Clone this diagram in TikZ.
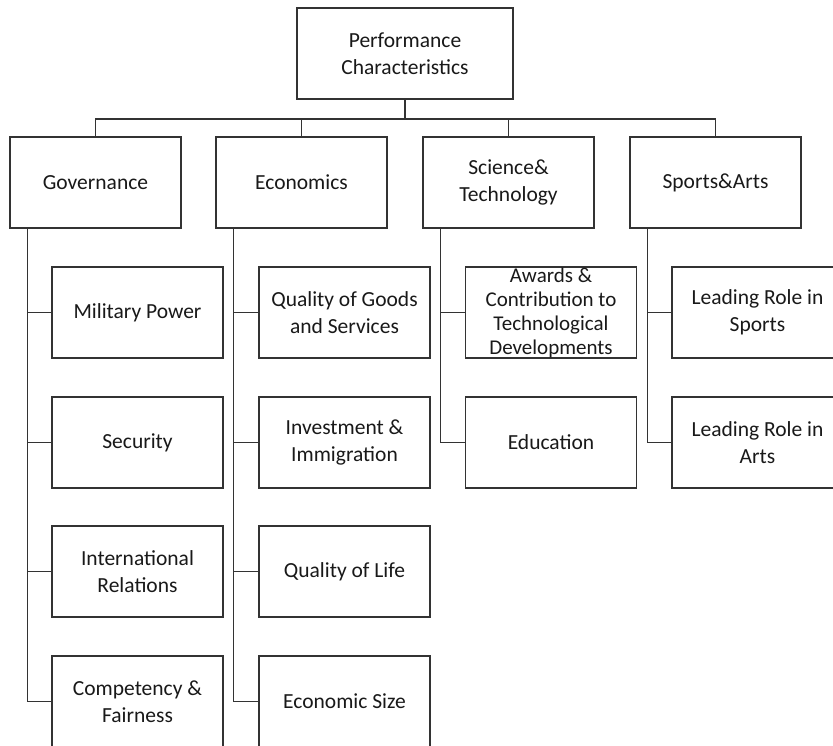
\documentclass[tikz,border=0pt]{standalone}
\usepackage{fontspec}
\setmainfont{Carlito}
\begin{document}
\begin{tikzpicture}[x=1pt,y=-1pt,
  box/.style={draw=black!80, line width=1.3pt, fill=white, rectangle, align=center,
    minimum width=171pt, minimum height=91pt, inner sep=0pt,
    font=\fontsize{21.5}{27}\selectfont, text=black!90},
  link/.style={draw=black!80, line width=1.3pt}]
\useasboundingbox (0,0) rectangle (833,745);
\clip (0,0) rectangle (833,745);
\fill[white] (0,0) rectangle (833,745);
% top
\node[box, minimum width=216pt] (top) at (405,53.5) {Performance\\Characteristics};
% level 1
\node[box] (gov) at (95.5,182.5) {Governance};
\node[box] (eco) at (301.5,182.5) {Economics};
\node[box] (sci) at (508.5,182.5) {Science\&\\Technology};
\node[box] (spa) at (715.5,182.5) {Sports\&Arts};
% governance children
\node[box] (mil) at (137.5,312.5) {Military Power};
\node[box] (sec) at (137.5,442.5) {Security};
\node[box] (int) at (137.5,571.5) {International\\Relations};
\node[box] (com) at (137.5,701.5) {Competency \&\\Fairness};
% economics children
\node[box] (qgs) at (344.5,312.5) {Quality of Goods\\and Services};
\node[box] (inv) at (344.5,442.5) {Investment \&\\Immigration};
\node[box] (qol) at (344.5,571.5) {Quality of Life};
\node[box] (esz) at (344.5,701.5) {Economic Size};
% science children
\node[box, font=\fontsize{21}{24}\selectfont] (awd) at (551,312.5) {Awards \&\\Contribution to\\Technological\\Developments};
\node[box] (edu) at (551,442.5) {Education};
% sports children
\node[box] (lrs) at (757.5,312.5) {Leading Role in\\Sports};
\node[box] (lra) at (757.5,442.5) {Leading Role in\\Arts};
% top bus
\coordinate (bus) at (405,119);
\draw[link] (top.south) -- (bus);
\draw[link] (bus) -| (gov.north);
\draw[link] (bus) -| (eco.north);
\draw[link] (bus) -| (sci.north);
\draw[link] (bus) -| (spa.north);
% trunks
\foreach \p/\c in {gov/mil,gov/sec,gov/int,gov/com,eco/qgs,eco/inv,eco/qol,eco/esz,sci/awd,sci/edu,spa/lrs,spa/lra}
  \draw[link] ([xshift=18pt]\p.south west) |- (\c.west);
\end{tikzpicture}
\end{document}
